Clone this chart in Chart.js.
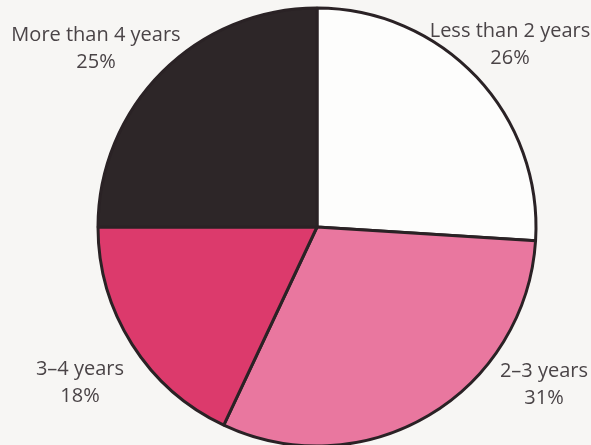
<!DOCTYPE html>
<html>
<head>
<meta charset="utf-8">
<script src="https://cdn.jsdelivr.net/npm/chart.js@4/dist/chart.umd.min.js"></script>
<style>
  html, body { margin: 0; padding: 0; background: #f7f6f4; }
  #wrap { width: 591px; height: 445px; position: relative; }
</style>
</head>
<body>
<div id="wrap"><canvas id="c" width="591" height="445"></canvas></div>
<script>
const categories = ["Less than 2 years", "2\u20133 years", "3\u20134 years", "More than 4 years"];
const shares = [26, 31, 18, 25];
const sliceColors = ["#fdfdfc", "#e9779f", "#dc3a6c", "#2d2628"];

// label anchor points (text centre x, first baseline y) per slice
const labelAnchors = [[510, 37], [544, 377], [80, 375], [96, 41]];

const labelPlugin = {
  id: 'sliceLabels',
  afterDraw(chart) {
    const ctx = chart.ctx;
    ctx.save();
    ctx.fillStyle = '#4a4447';
    ctx.font = '20px "Open Sans", Lato, sans-serif';
    ctx.textAlign = 'center';
    ctx.textBaseline = 'alphabetic';
    chart.data.labels.forEach((lab, i) => {
      const [x, y] = labelAnchors[i];
      ctx.fillText(lab, x, y);
      ctx.fillText(chart.data.datasets[0].data[i] + '%', x, y + 27);
    });
    ctx.restore();
  }
};

const bgPlugin = {
  id: 'bg',
  beforeDraw(chart) {
    const ctx = chart.ctx;
    ctx.save();
    ctx.fillStyle = '#f7f6f4';
    ctx.fillRect(0, 0, chart.width, chart.height);
    ctx.restore();
  }
};

new Chart(document.getElementById('c'), {
  type: 'pie',
  data: {
    labels: categories,
    datasets: [{
      data: shares,
      backgroundColor: sliceColors,
      borderColor: '#2a2225',
      borderWidth: 3,
      hoverOffset: 0
    }]
  },
  options: {
    responsive: false,
    animation: false,
    radius: 219,
    layout: { padding: { left: 97, right: 54, top: 9, bottom: 0 } },
    plugins: {
      legend: { display: false },
      tooltip: { enabled: false },
      title: { display: false }
    }
  },
  plugins: [bgPlugin, labelPlugin]
});
</script>
</body>
</html>
